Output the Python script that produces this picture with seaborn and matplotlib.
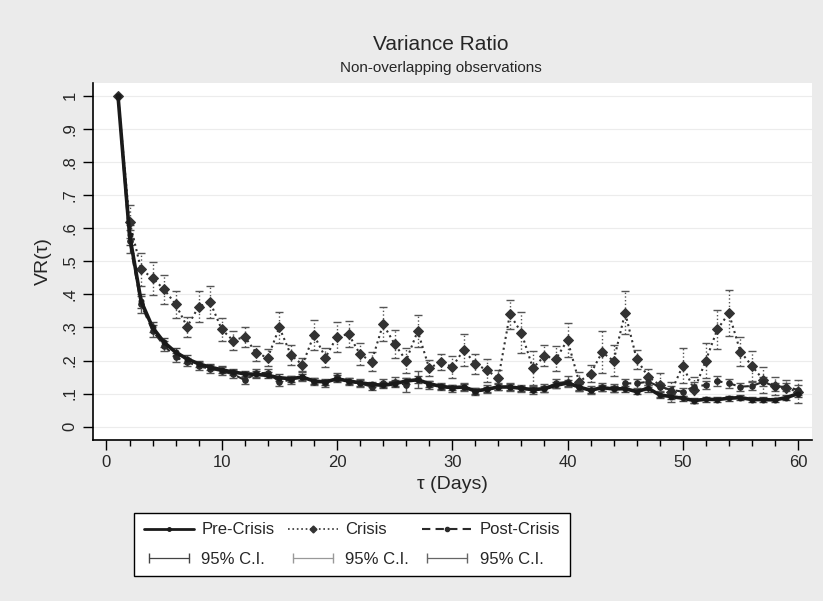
import numpy as np
import pandas as pd
import seaborn as sns
import matplotlib.pyplot as plt
from matplotlib.lines import Line2D
from matplotlib.legend_handler import HandlerLine2D
from matplotlib.ticker import MultipleLocator

# data
tau = list(range(1, 61))

pre = [1.0, 0.58, 0.38, 0.30, 0.255, 0.225, 0.205, 0.19, 0.18, 0.172,
       0.165, 0.16, 0.158, 0.155, 0.148, 0.145, 0.15, 0.138, 0.135, 0.145,
       0.138, 0.133, 0.128, 0.125, 0.13, 0.138, 0.142, 0.13, 0.122, 0.118,
       0.12, 0.108, 0.113, 0.12, 0.12, 0.116, 0.112, 0.115, 0.125, 0.132,
       0.12, 0.11, 0.118, 0.114, 0.115, 0.106, 0.116, 0.096, 0.091, 0.086,
       0.079, 0.083, 0.082, 0.086, 0.088, 0.082, 0.082, 0.081, 0.088, 0.10]
pre_ci = [0.0, 0.03, 0.02, 0.015, 0.013, 0.012, 0.011, 0.01, 0.01, 0.01,
          0.01, 0.009, 0.01, 0.009, 0.01, 0.009, 0.01, 0.009, 0.009, 0.01,
          0.009, 0.009, 0.008, 0.009, 0.01, 0.009, 0.01, 0.009, 0.008, 0.008,
          0.009, 0.008, 0.008, 0.009, 0.009, 0.008, 0.008, 0.009, 0.009, 0.01,
          0.008, 0.008, 0.009, 0.008, 0.009, 0.008, 0.01, 0.008, 0.008, 0.008,
          0.007, 0.008, 0.007, 0.008, 0.008, 0.007, 0.007, 0.007, 0.008, 0.009]

crisis = [1.0, 0.62, 0.476, 0.449, 0.415, 0.37, 0.302, 0.363, 0.376, 0.294,
          0.26, 0.272, 0.222, 0.209, 0.30, 0.217, 0.187, 0.277, 0.209, 0.272,
          0.28, 0.219, 0.197, 0.31, 0.25, 0.20, 0.289, 0.177, 0.195, 0.181,
          0.232, 0.19, 0.171, 0.146, 0.34, 0.284, 0.177, 0.214, 0.205, 0.262,
          0.136, 0.16, 0.225, 0.199, 0.345, 0.204, 0.151, 0.126, 0.106, 0.184,
          0.111, 0.20, 0.294, 0.343, 0.227, 0.184, 0.141, 0.123, 0.116, 0.106]
crisis_ci = [0.0, 0.05, 0.05, 0.05, 0.045, 0.04, 0.03, 0.046, 0.048, 0.035,
             0.028, 0.03, 0.022, 0.025, 0.048, 0.03, 0.02, 0.045, 0.03, 0.045,
             0.04, 0.034, 0.03, 0.052, 0.043, 0.038, 0.049, 0.024, 0.025, 0.033,
             0.048, 0.031, 0.035, 0.025, 0.044, 0.062, 0.052, 0.032, 0.038, 0.05,
             0.028, 0.025, 0.064, 0.047, 0.066, 0.029, 0.024, 0.036, 0.03, 0.053,
             0.039, 0.053, 0.059, 0.07, 0.045, 0.045, 0.039, 0.028, 0.025, 0.035]

post = [1.0, 0.56, 0.37, 0.29, 0.245, 0.21, 0.195, 0.183, 0.175, 0.168,
        0.158, 0.141, 0.161, 0.163, 0.136, 0.141, 0.151, 0.136, 0.131, 0.149,
        0.136, 0.131, 0.121, 0.131, 0.136, 0.126, 0.143, 0.126, 0.121, 0.116,
        0.121, 0.106, 0.113, 0.121, 0.121, 0.116, 0.111, 0.116, 0.131, 0.136,
        0.121, 0.111, 0.121, 0.116, 0.131, 0.131, 0.136, 0.121, 0.111, 0.106,
        0.121, 0.126, 0.138, 0.131, 0.121, 0.123, 0.136, 0.121, 0.121, 0.111]
post_ci = [0.0, 0.035, 0.025, 0.018, 0.015, 0.014, 0.013, 0.012, 0.012, 0.012,
           0.012, 0.011, 0.012, 0.011, 0.012, 0.011, 0.013, 0.011, 0.011, 0.012,
           0.011, 0.012, 0.011, 0.012, 0.013, 0.02, 0.025, 0.012, 0.011, 0.011,
           0.012, 0.011, 0.012, 0.011, 0.012, 0.011, 0.011, 0.012, 0.013, 0.016,
           0.012, 0.011, 0.012, 0.012, 0.014, 0.013, 0.016, 0.012, 0.012, 0.012,
           0.014, 0.013, 0.016, 0.014, 0.012, 0.013, 0.014, 0.012, 0.012, 0.016]

sns.set_style("white")
plt.rcParams['font.family'] = ['Liberation Sans', 'DejaVu Sans']

fig = plt.figure(figsize=(8.23, 6.01), dpi=100, facecolor='#ebebeb')
ax = fig.add_axes([0.113, 0.268, 0.874, 0.594])
ax.set_facecolor('white')

# faint horizontal grid
for yv in np.arange(0, 1.01, 0.1):
    ax.axhline(yv, color='#ececec', lw=0.8, zorder=0)

# confidence intervals
ax.errorbar(tau, pre, yerr=pre_ci, fmt='none', ecolor='#444444', elinewidth=1.0,
            capsize=3, capthick=1.0, zorder=2)
eb = ax.errorbar(tau, crisis, yerr=crisis_ci, fmt='none', ecolor='#555555', elinewidth=1.0,
                 capsize=3, capthick=1.0, zorder=2)
eb[2][0].set_linestyle(':')
ax.errorbar(tau, post, yerr=post_ci, fmt='none', ecolor='#555555', elinewidth=1.0,
            capsize=3, capthick=1.0, zorder=2)

# series
sns.lineplot(x=tau, y=pre, ax=ax, color='#1a1a1a', linewidth=2.6, linestyle='-',
             marker='o', markersize=3.5, markeredgecolor='#1a1a1a', zorder=4)
sns.lineplot(x=tau, y=crisis, ax=ax, color='#333333', linewidth=1.5, linestyle=':',
             marker='D', markersize=5, markeredgecolor='#333333', zorder=3)
sns.lineplot(x=tau, y=post, ax=ax, color='#2a2a2a', linewidth=1.5, linestyle=(0, (4, 2.5)),
             marker='o', markersize=4, markeredgecolor='#2a2a2a', zorder=3)

ax.set_xlim(-1.17, 61.24)
ax.set_ylim(-0.04, 1.039)
ax.xaxis.set_major_locator(MultipleLocator(10))
ax.xaxis.set_minor_locator(MultipleLocator(2))
ax.set_yticks(np.arange(0, 1.01, 0.1))
ax.set_yticklabels(['0', '.1', '.2', '.3', '.4', '.5', '.6', '.7', '.8', '.9', '1'],
                   rotation=90, va='center')
ax.tick_params(axis='both', which='major', direction='out', length=7, width=1,
               color='black', labelsize=12, pad=4)
ax.tick_params(axis='x', which='minor', direction='out', length=4.5, width=1,
               color='black', bottom=True)
ax.tick_params(axis='y', which='major', left=True)
ax.tick_params(axis='x', which='major', bottom=True)
sns.despine(ax=ax)
for s in ['left', 'bottom']:
    ax.spines[s].set_color('black')
    ax.spines[s].set_linewidth(1.2)

ax.set_xlabel('τ (Days)', fontsize=14, labelpad=4)
ax.set_ylabel('VR(τ)', fontsize=14, labelpad=8)

fig.text(441 / 823, 1 - 45 / 601, 'Variance Ratio', ha='center', va='center', fontsize=15)
fig.text(441 / 823, 1 - 68 / 601, 'Non-overlapping observations', ha='center', va='center',
         fontsize=11)

# legend
h_pre = Line2D([], [], color='#1a1a1a', lw=2.0, marker='o', markersize=2.5)
h_cri = Line2D([], [], color='#333333', lw=1.2, ls=':', marker='D', markersize=3.5)
h_post = Line2D([], [], color='#2a2a2a', lw=1.5, ls=(0, (4, 2.5)), marker='o', markersize=3)
h_ci1 = Line2D([], [], color='#444444', lw=0.9, marker='|', markersize=7)
h_ci2 = Line2D([], [], color='#999999', lw=0.9, marker='|', markersize=7)
h_ci3 = Line2D([], [], color='#666666', lw=0.9, marker='|', markersize=7)
handles = [h_pre, h_ci1, h_cri, h_ci2, h_post, h_ci3]
labels = ['Pre-Crisis', '95% C.I.', 'Crisis', '95% C.I.', 'Post-Crisis', '95% C.I.']
hm = {h: HandlerLine2D(numpoints=2) for h in [h_ci1, h_ci2, h_ci3]}
hm.update({h: HandlerLine2D(numpoints=1) for h in [h_pre, h_cri, h_post]})
leg = fig.legend(handles, labels, ncol=3, loc='center',
                 bbox_to_anchor=(352 / 823, 1 - 544.5 / 601), handler_map=hm,
                 fontsize=12, frameon=True, fancybox=False, edgecolor='black',
                 facecolor='white', framealpha=1, handlelength=3.0, handletextpad=0.45,
                 columnspacing=0.8, borderpad=0.58, labelspacing=0.85)
leg.get_frame().set_linewidth(1.0)

fig.savefig('out.png', dpi=100, facecolor=fig.get_facecolor())
